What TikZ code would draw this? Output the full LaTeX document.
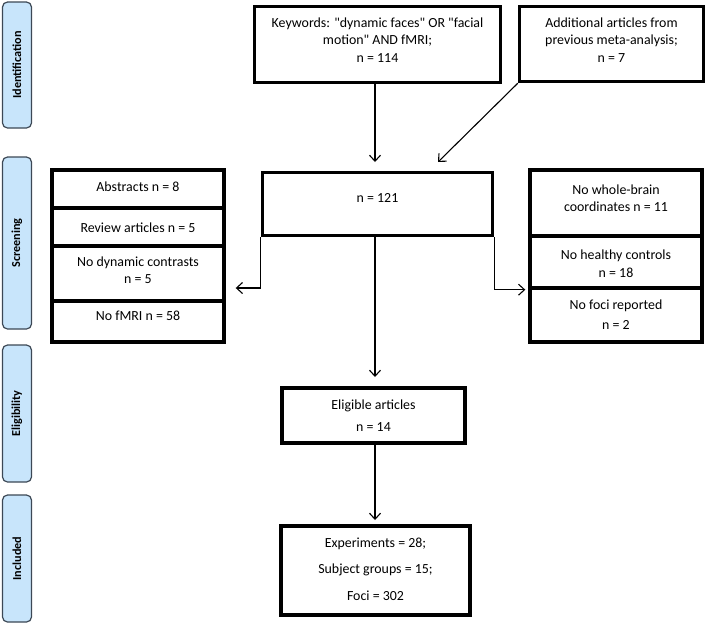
\documentclass[tikz,border=0pt]{standalone}
\usepackage{fontspec}
\setmainfont{Carlito}
\usetikzlibrary{arrows.meta}
\definecolor{phasefill}{HTML}{C8E5FB}
\definecolor{phasedraw}{HTML}{3C4855}
\begin{document}
\begin{tikzpicture}[x=1pt,y=-1pt,
  box/.style={draw=black, line width=3.4pt, inner sep=0pt},
  txt/.style={align=center, inner sep=0pt, font=\fontsize{13.9}{17.5}\selectfont},
  phase/.style={draw=phasedraw, fill=phasefill, line width=1.2pt, rounded corners=5pt,
    rotate=90, minimum height=29pt, inner sep=0pt,
    font=\fontsize{12.2}{16}\selectfont\bfseries},
  conn/.style={line width=1.1pt, -{Straight Barb[length=6pt,width=11pt,line width=1.1pt]}}
]
\useasboundingbox (0,0) rectangle (708,625);

% phase labels
\node[phase, minimum width=126pt] (pid) at (17,65) {Identification};
\node[phase, minimum width=172pt] (pscr) at (17,243) {Screening};
\node[phase, minimum width=137pt] (pel) at (17,413.5) {Eligibility};
\node[phase, minimum width=127pt] (pinc) at (17,558.5) {Included};

% boxes
\node[box, minimum width=246pt, minimum height=76pt] (kw) at (377.5,44.5) {};
\node[box, minimum width=184pt, minimum height=75pt] (add) at (611.5,44) {};
\node[box, minimum width=230pt, minimum height=63pt] (n121) at (377.5,204) {};
\node[box, minimum width=172pt, minimum height=38pt] (L1) at (138,189) {};
\node[box, minimum width=172pt, minimum height=38pt] (L2) at (138,227) {};
\node[box, minimum width=172pt, minimum height=55pt] (L3) at (138,273.5) {};
\node[box, minimum width=172pt, minimum height=41pt] (L4) at (138,321.5) {};
\node[box, minimum width=172pt, minimum height=66pt] (R1) at (616,203) {};
\node[box, minimum width=172pt, minimum height=52pt] (R2) at (616,262) {};
\node[box, minimum width=172pt, minimum height=54pt] (R3) at (616,315) {};
\node[box, minimum width=183pt, minimum height=55pt] (elig) at (373.5,415.5) {};
\node[box, minimum width=189pt, minimum height=89pt] (incl) at (375.5,570.5) {};

% texts
\node[txt] (kwt) at (377.5,40) {Keywords: \textquotedbl dynamic faces\textquotedbl{} OR \textquotedbl facial\\motion\textquotedbl{} AND fMRI;\\n = 114};
\node[txt] (addt) at (611.5,40) {Additional articles from\\previous meta-analysis;\\n = 7};
\node[txt] (n121t) at (377.5,197.5) {n = 121};
\node[txt] (L1t) at (138,186.5) {Abstracts n = 8};
\node[txt] (L2t) at (138,228) {Review articles n = 5};
\node[txt] (L3t) at (138,270) {No dynamic contrasts\\n = 5};
\node[txt] (L4t) at (138,315.5) {No fMRI n = 58};
\node[txt] (R1t) at (616,198) {No whole-brain\\coordinates n = 11};
\node[txt] (R2t) at (616,263.5) {No healthy controls\\n = 18};
\node[txt] (R3t) at (616,314.5) {No foci reported\\[2.5pt]n = 2};
\node[txt] (eligt) at (373.5,415.5) {Eligible articles\\[4.5pt]n = 14};
\node[txt] (inclt) at (375.5,569) {Experiments = 28;\\[9pt]Subject groups = 15;\\[9pt]Foci = 302};

% connectors
\coordinate (addin) at (438,162);
\draw[conn] (kw.south -| 375,0) -- (375,162);
\draw[conn] (add.south west) -- (addin);
\draw[conn, shorten >=10pt] (n121.south -| 375,0) -- (375,387);
\draw[conn, shorten >=5pt] (elig.south -| 375,0) -- (375,525);
\draw[conn, shorten >=10pt] (n121.south west) |- (L3.east |- 0,288);
\draw[conn, shorten >=3pt] (n121.south east) |- (R2.south west);
\end{tikzpicture}
\end{document}
